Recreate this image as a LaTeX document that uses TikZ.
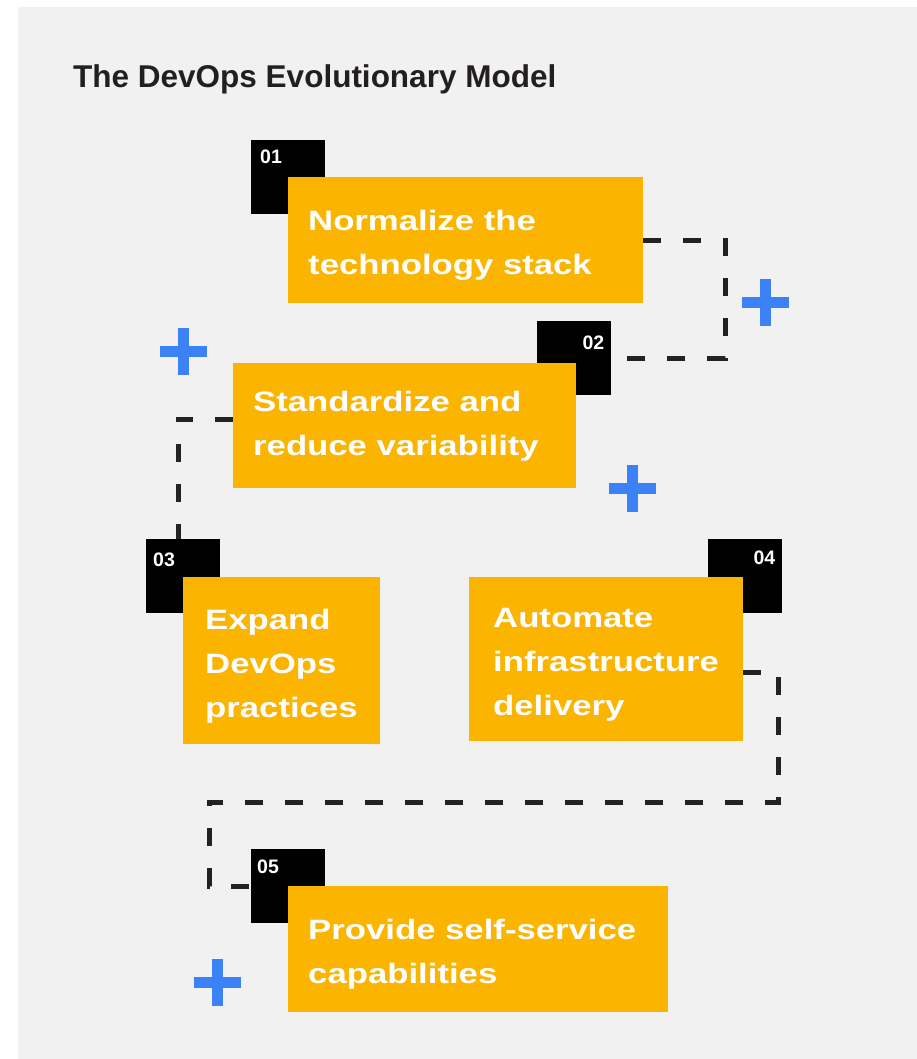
\documentclass[tikz,border=0pt]{standalone}
\usepackage{fontspec}
\setmainfont{Liberation Sans}
\newfontfamily\boxfont{Liberation Sans}[FakeStretch=1.24]
\usetikzlibrary{calc}
\definecolor{bg}{HTML}{F1F1F1}
\definecolor{amber}{HTML}{FBB400}
\definecolor{plusblue}{HTML}{3B82F6}
\definecolor{dashcol}{HTML}{222222}
\definecolor{titlecol}{HTML}{231F20}
\begin{document}
\begin{tikzpicture}[x=1pt,y=-1pt,
  stepbox/.style={fill=amber, draw=none, inner sep=0pt, anchor=north west},
  numbox/.style={fill=black, draw=none, inner sep=0pt, minimum width=74pt, minimum height=74pt, anchor=north west},
  steptext/.style={anchor=base west, inner sep=0pt, align=left, text=white,
    font=\boxfont\bfseries\fontsize{28}{44}\selectfont},
  numtext/.style={inner sep=0pt, text=white, font=\bfseries\fontsize{19.5}{19.5}\selectfont},
  conn/.style={draw=dashcol, line width=5pt, dash pattern=on 18pt off 22pt},
  plussign/.pic={
    \fill[plusblue] (-23.5,-5.5) rectangle (23.5,5.5);
    \fill[plusblue] (-5.5,-23.5) rectangle (5.5,23.5);
  }
]
\useasboundingbox (0,0) rectangle (917,1059);
\fill[white] (0,0) rectangle (917,1059);
\fill[bg] (18,7) rectangle (917,1059);

% title
\node[anchor=base west, inner sep=0pt, text=titlecol,
  font=\bfseries\fontsize{31.5}{32}\selectfont] (title) at (73,88) {The DevOps Evolutionary Model};

% black number squares
\node[numbox] (k1) at (251,140) {};
\node[numbox] (k2) at (537,321) {};
\node[numbox] (k3) at (146,539) {};
\node[numbox] (k4) at (708,539) {};
\node[numbox] (k5) at (251,849) {};

\coordinate (c2) at ($(k3.north west)+(32,0)$);
\coordinate (c4a) at (778,802);
\coordinate (c4b) at (209,802);

% yellow step boxes
\node[stepbox, minimum width=355pt, minimum height=126pt] (b1) at (288,177) {};
\node[stepbox, minimum width=343pt, minimum height=125pt] (b2) at (233,363) {};
\node[stepbox, minimum width=197pt, minimum height=167pt] (b3) at (183,577) {};
\node[stepbox, minimum width=274pt, minimum height=164pt] (b4) at (469,577) {};
\node[stepbox, minimum width=380pt, minimum height=126pt] (b5) at (288,886) {};

% connectors
\draw[conn] (b1.east) -- ++(82,0) |- (k2.east);
\draw[conn] ($(b2.north west)+(0,56)$) -| (c2);
\draw[conn] ($(b3.north east)+(0,92)$) -- ($(b3.north east)+(0,92)$ -| b4.west);
\draw[conn] ($(b4.north east)+(0,95)$) -| (c4a) -- (c4b) |- (k5.west);

% step texts (anchor = baseline of the last line)
\node[steptext] (t1) at ($(b1.north west)+(20,97)$) {Normalize the\\technology stack};
\node[steptext] (t2) at ($(b2.north west)+(20,92)$) {Standardize and\\reduce variability};
\node[steptext] (t3) at ($(b3.north west)+(22,140)$) {Expand\\DevOps\\practices};
\node[steptext] (t4) at ($(b4.north west)+(24,138)$) {Automate\\infrastructure\\delivery};
\node[steptext] (t5) at ($(b5.north west)+(20,97)$) {Provide self-service\\capabilities};

% numbers
\node[numtext, anchor=base west] (n1) at ($(k1.north west)+(9,24)$) {01};
\node[numtext, anchor=base east] (n2) at ($(k2.north east)+(-7,28)$) {02};
\node[numtext, anchor=base west] (n3) at ($(k3.north west)+(7,27)$) {03};
\node[numtext, anchor=base east] (n4) at ($(k4.north east)+(-7,25)$) {04};
\node[numtext, anchor=base west] (n5) at ($(k5.north west)+(6,24)$) {05};

% plus signs
\pic at (765,302) {plussign};
\pic at (183,351) {plussign};
\pic at (632,488) {plussign};
\pic at (217,982) {plussign};
\end{tikzpicture}
\end{document}
